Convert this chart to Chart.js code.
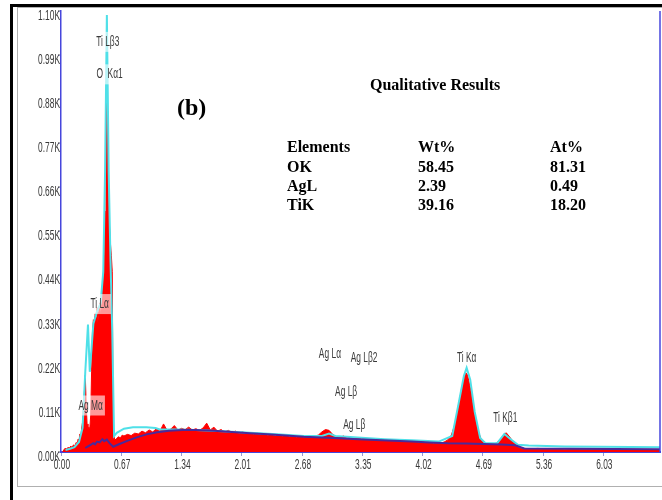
<!DOCTYPE html>
<html>
<head>
<meta charset="utf-8">
<script src="https://cdn.jsdelivr.net/npm/chart.js@4.4.1/dist/chart.umd.min.js"></script>
<style>
  body { margin: 0; background: #fff; }
  #wrap { position: relative; width: 662px; height: 500px; overflow: hidden; background: #fff; }
  #wrap canvas { position: absolute; left: 0; top: 0; }
  .frame-black-left { position: absolute; left: 10px; top: 4px; width: 3px; height: 496px; background: #000; }
  .frame-black-top { position: absolute; left: 10px; top: 4px; width: 652px; height: 3px; background: #000; }
  .frame-gray { position: absolute; left: 17px; top: 7px; width: 700px; height: 478px; border: 1px solid #b0b0b0; }
  .txt { position: absolute; font-family: 'Liberation Serif', 'Times New Roman', serif; font-weight: bold; color: #000; white-space: nowrap; }
</style>
</head>
<body>
<div id="wrap">
  <div class="frame-gray"></div>
  <div class="frame-black-left"></div>
  <div class="frame-black-top"></div>
  <canvas id="eds" width="662" height="500"></canvas>
  <div id="notes"></div>
</div>
<script>
// axis ticks
const xTicks = [0.00, 0.67, 1.34, 2.01, 2.68, 3.35, 4.02, 4.69, 5.36, 6.03];
const yTicks = [0, 110, 220, 330, 440, 550, 660, 770, 880, 990, 1100];

// measured spectrum [keV, counts] (red fill)
const measured = [
  [0.02,0],[0.03,5],[0.05,10],[0.06,7],[0.08,12],[0.09,9],[0.11,15],[0.12,11],[0.14,18],[0.15,14],
  [0.17,24],[0.18,20],[0.19,32],[0.20,28],[0.21,45],[0.22,38],[0.23,60],[0.24,75],[0.25,110],[0.26,150],
  [0.27,192],[0.28,120],[0.29,70],[0.30,55],[0.31,62],[0.32,58],[0.33,90],[0.34,200],[0.35,300],[0.36,330],
  [0.37,320],[0.38,345],[0.39,335],[0.40,360],[0.41,325],[0.42,350],[0.43,372],[0.44,340],[0.45,365],[0.46,390],
  [0.47,440],[0.48,500],[0.49,600],[0.50,780],[0.51,930],[0.52,820],[0.53,640],[0.54,560],[0.55,520],[0.56,490],
  [0.57,450],[0.58,45],[0.60,30],[0.62,34],[0.64,38],[0.66,35],[0.68,42],
  [0.70,40],[0.74,44],[0.78,41],[0.82,47],[0.86,45],[0.90,52],[0.94,48],[0.98,55],[1.02,50],[1.06,58],
  [1.10,52],[1.14,70],[1.18,54],[1.22,57],[1.26,66],[1.30,55],[1.34,59],[1.38,56],[1.42,62],[1.46,55],
  [1.50,58],[1.54,54],[1.58,60],[1.62,72],[1.66,55],[1.70,62],[1.74,52],[1.78,56],[1.82,50],[1.86,54],
  [1.90,49],[1.94,52],[1.98,47],[2.02,50],[2.06,46],[2.10,48],[2.14,44],[2.18,47],[2.22,43],[2.26,46],
  [2.30,41],[2.34,44],[2.38,40],[2.42,43],[2.46,39],[2.50,42],[2.54,38],[2.58,41],[2.62,37],[2.66,40],
  [2.70,36],[2.74,39],[2.78,35],[2.82,40],[2.86,42],[2.90,50],[2.94,56],[2.98,54],[3.02,44],[3.06,38],
  [3.10,36],[3.14,40],[3.18,34],[3.22,37],[3.26,33],[3.30,36],[3.34,32],[3.38,34],[3.42,31],[3.46,33],
  [3.50,30],[3.54,33],[3.58,29],[3.62,31],[3.66,28],[3.70,30],[3.74,27],[3.78,29],[3.82,26],[3.86,28],
  [3.90,25],[3.94,27],[3.98,24],[4.02,26],[4.06,23],[4.10,25],[4.14,22],[4.18,24],[4.22,22],[4.26,25],
  [4.30,30],[4.34,42],[4.38,70],[4.42,118],[4.46,165],[4.50,198],[4.52,192],[4.56,150],[4.60,95],[4.64,50],
  [4.68,28],[4.72,20],[4.76,18],[4.80,20],[4.84,22],[4.88,30],[4.92,42],[4.95,48],[4.98,40],[5.02,28],
  [5.06,16],[5.10,10],[5.16,9],[5.22,8],[5.30,9],[5.40,8],[5.50,8],[5.60,7],[5.70,8],[5.80,7],
  [5.90,7],[6.00,6],[6.10,7],[6.20,6],[6.30,6],[6.40,6],[6.50,5],[6.60,5],[6.66,5]
];

// fitted spectrum (cyan line)
const fitted = [
  [0.05,5],[0.10,8],[0.15,12],[0.20,25],[0.24,60],[0.27,200],[0.30,318],[0.32,200],[0.34,260],[0.36,320],
  [0.40,350],[0.44,370],[0.47,450],[0.49,700],[0.51,1090],[0.53,700],[0.55,480],[0.57,300],[0.59,40],[0.62,48],
  [0.70,58],[0.80,62],[0.95,62],[1.05,60],[1.10,56],[1.30,56],[1.50,55],[1.80,52],[2.10,48],[2.40,44],
  [2.70,40],[2.90,40],[2.98,46],[3.05,40],[3.30,36],[3.60,32],[3.90,29],[4.20,26],[4.35,40],[4.42,120],
  [4.48,190],[4.51,210],[4.55,180],[4.60,100],[4.66,35],[4.72,22],[4.85,22],[4.93,45],[5.00,32],[5.08,18],
  [5.20,16],[5.60,14],[6.00,13],[6.66,12]
];

// background (purple line)
const background = [
  [0.27,10],[0.30,14],[0.33,18],[0.36,22],[0.38,19],[0.40,26],[0.43,24],[0.46,32],[0.48,27],[0.51,31],
  [0.54,22],[0.58,13],[0.65,20],[0.75,29],[0.85,37],[0.95,44],[1.07,49],[1.20,53],[1.35,55],[1.50,55],
  [1.70,53],[1.90,50],[2.10,47],[2.30,44],[2.50,41],[2.70,38],[2.90,36],[3.10,34],[3.30,32],[3.50,30],
  [3.70,28],[3.90,26],[4.10,24],[4.30,22],[4.50,21],[4.70,20],[4.90,19],[5.05,17],[5.15,9],[6.66,7]
];

// peak labels: text, keV, counts, boxed
const peakLabels = [
  ['Ti Lβ3', 0.52, 1023, true],
  ['O  Kα1', 0.54, 942, true],
  ['Ti Lα', 0.43, 369, true],
  ['Ag Mα', 0.33, 116, true],
  ['Ag Lα', 2.99, 244, false],
  ['Ag Lβ2', 3.37, 234, false],
  ['Ag Lβ', 3.17, 151, false],
  ['Ag Lβ', 3.26, 68, false],
  ['Ti Kα', 4.51, 236, false],
  ['Ti Kβ1', 4.94, 85, false]
];

// quantitative table
const tableHead = ['Elements', 'Wt%', 'At%'];
const tableElements = ['OK', 'AgL', 'TiK'];
const tableWt = ['58.45', '2.39', '39.16'];
const tableAt = ['81.31', '0.49', '18.20'];

const axisBlue = '#4646dc';
const tickFont = "14px 'Liberation Sans', Arial, sans-serif";
const peakFont = "15px 'Liberation Sans', Arial, sans-serif";
const toXY = arr => arr.map(p => ({ x: p[0], y: p[1] }));

// condensed text: the source uses a narrow face, so squeeze the context horizontally
function narrowText(ctx, txt, x, y, align, color, font, k) {
  ctx.save();
  ctx.translate(x, y);
  ctx.scale(k, 1);
  ctx.font = font;
  ctx.textAlign = align;
  ctx.textBaseline = 'middle';
  ctx.fillStyle = color;
  ctx.fillText(txt, 0, 0);
  ctx.restore();
}

const labelPlugin = {
  id: 'labels',
  afterDraw(chart) {
    const { ctx, chartArea, scales: { x, y } } = chart;
    ctx.save();
    // right edge of the plot frame
    ctx.strokeStyle = axisBlue;
    ctx.lineWidth = 1.5;
    ctx.beginPath();
    ctx.moveTo(chartArea.right, chartArea.top);
    ctx.lineTo(chartArea.right, chartArea.bottom);
    ctx.stroke();
    ctx.restore();

    // tick labels
    x.ticks.forEach(t => narrowText(ctx, t.value.toFixed(2), x.getPixelForValue(t.value) + 1, chartArea.bottom + 13, 'center', '#383838', tickFont, 0.6));
    y.ticks.forEach(t => narrowText(ctx, (t.value / 1000).toFixed(2) + 'K', chartArea.left - 1, y.getPixelForValue(t.value) + 5, 'right', '#383838', tickFont, 0.6));

    // peak labels
    peakLabels.forEach(([txt, e, c, boxed]) => {
      const px = x.getPixelForValue(e);
      const py = y.getPixelForValue(c);
      if (boxed) {
        ctx.save();
        ctx.font = peakFont;
        const w = ctx.measureText(txt).width * 0.56;
        ctx.fillStyle = 'rgba(255,255,255,0.6)';
        ctx.fillRect(px - w / 2 - 2, py - 10, w + 4, 20);
        ctx.restore();
      }
      narrowText(ctx, txt, px, py, 'center', '#3a3a3a', peakFont, 0.56);
    });
  }
};

new Chart(document.getElementById('eds'), {
  type: 'line',
  data: {
    datasets: [
      { label: 'Background', data: toXY(background), borderColor: '#4a2a9a', borderWidth: 2, fill: false },
      { label: 'Fit', data: toXY(fitted), borderColor: '#4fe0e8', borderWidth: 2, fill: false },
      { label: 'Spectrum', data: toXY(measured), borderColor: '#ff0000', backgroundColor: '#ff0000', borderWidth: 1, fill: 'origin' }
    ]
  },
  options: {
    responsive: false,
    animation: false,
    devicePixelRatio: 1,
    layout: { padding: { top: 11, right: 2, bottom: 0, left: 0 } },
    elements: { point: { radius: 0 }, line: { tension: 0 } },
    plugins: { legend: { display: false }, tooltip: { enabled: false } },
    scales: {
      x: {
        type: 'linear',
        min: 0,
        max: 6.66,
        afterBuildTicks: a => { a.ticks = xTicks.map(v => ({ value: v })); },
        afterFit: s => { s.height = 48; },
        ticks: { color: 'rgba(0,0,0,0)', maxRotation: 0, autoSkip: false, font: { size: 12 } },
        grid: { drawOnChartArea: false, tickLength: 4, color: '#9a9ad0' },
        border: { color: axisBlue, width: 2 }
      },
      y: {
        min: 0,
        max: 1100,
        afterBuildTicks: a => { a.ticks = yTicks.map(v => ({ value: v })); },
        afterFit: s => { s.width = 61; },
        ticks: { color: 'rgba(0,0,0,0)', font: { size: 12 } },
        grid: { drawOnChartArea: false, tickLength: 3, color: '#9a9ad0' },
        border: { color: axisBlue, width: 1.5 }
      }
    }
  },
  plugins: [labelPlugin]
});

// title and results table as html text
const notes = document.getElementById('notes');
const addText = (txt, left, top, size) => {
  const d = document.createElement('div');
  d.className = 'txt';
  d.style.left = left + 'px';
  d.style.top = top + 'px';
  d.style.fontSize = size + 'px';
  d.style.lineHeight = '20px';
  d.textContent = txt;
  notes.appendChild(d);
};
addText('(b)', 177, 97, 24);
addText('Qualitative Results', 370, 75, 16);
const colLeft = [287, 418, 550];
const rowTop = [137, 157, 176, 195];
tableHead.forEach((h, i) => addText(h, colLeft[i], rowTop[0], 16));
tableElements.forEach((el, r) => {
  addText(el, colLeft[0], rowTop[r + 1], 16);
  addText(tableWt[r], colLeft[1], rowTop[r + 1], 16);
  addText(tableAt[r], colLeft[2], rowTop[r + 1], 16);
});
</script>
</body>
</html>
